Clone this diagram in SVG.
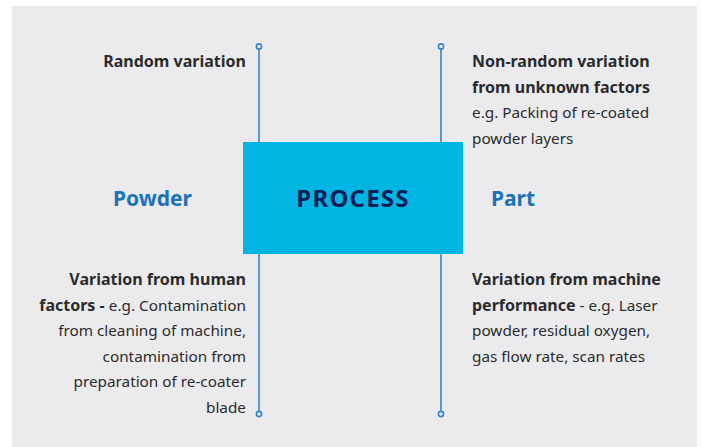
<svg xmlns="http://www.w3.org/2000/svg" width="701" height="447" viewBox="0 0 701 447">
<style>
text{font-family:"Noto Sans","Liberation Sans",sans-serif;fill:#2b2b2b;font-size:15.3px}
.b{font-weight:700;font-size:16px}
.h{font-size:21px;font-weight:700;fill:#1a72b9}
.p{font-size:24px;font-weight:700;fill:#0b1d5a;letter-spacing:1.2px}
.ln{stroke:#2f86cc;stroke-width:1.6;fill:none}
.dot{stroke:#2f86cc;stroke-width:1.6;fill:#ebebee}
</style>
<rect x="0" y="0" width="701" height="447" fill="#ffffff"/>
<rect x="12" y="6" width="685" height="441" fill="#ebebee"/>
<g id="connectors">
<line class="ln" x1="259" y1="49" x2="259" y2="411"/>
<line class="ln" x1="441" y1="49" x2="441" y2="411"/>
<circle class="dot" cx="259" cy="46.5" r="2.6"/>
<circle class="dot" cx="441" cy="46.5" r="2.6"/>
<circle class="dot" cx="259" cy="414" r="2.6"/>
<circle class="dot" cx="441" cy="414" r="2.6"/>
</g>
<g id="process">
<rect x="243" y="142" width="220" height="112" fill="#00b5e2"/>
<text class="p" x="353" y="207" text-anchor="middle">PROCESS</text>
</g>
<g id="powder"><text class="h" x="152.5" y="206" text-anchor="middle">Powder</text></g>
<g id="part"><text class="h" x="513" y="206" text-anchor="middle">Part</text></g>
<g id="random"><text class="b" x="246" y="67" text-anchor="end">Random variation</text></g>
<g id="nonrandom">
<text x="472" y="67"><tspan class="b">Non-random variation</tspan></text>
<text x="472" y="92.5"><tspan class="b">from unknown factors</tspan></text>
<text x="472" y="118"> e.g. Packing of re-coated</text>
<text x="472" y="143.5">powder layers</text>
</g>
<g id="human">
<text class="b" x="246" y="285" text-anchor="end">Variation from human</text>
<text x="246" y="310.5" text-anchor="end"><tspan class="b">factors - </tspan>e.g. Contamination</text>
<text x="246" y="336" text-anchor="end">from cleaning of machine,</text>
<text x="246" y="361.5" text-anchor="end">contamination from</text>
<text x="246" y="387" text-anchor="end">preparation of re-coater</text>
<text x="246" y="412.5" text-anchor="end">blade</text>
</g>
<g id="machine">
<text class="b" x="472" y="285">Variation from machine</text>
<text x="472" y="310.5"><tspan class="b">performance</tspan> - e.g. Laser</text>
<text x="472" y="336">powder, residual oxygen,</text>
<text x="472" y="361.5">gas flow rate, scan rates</text>
</g>
</svg>
